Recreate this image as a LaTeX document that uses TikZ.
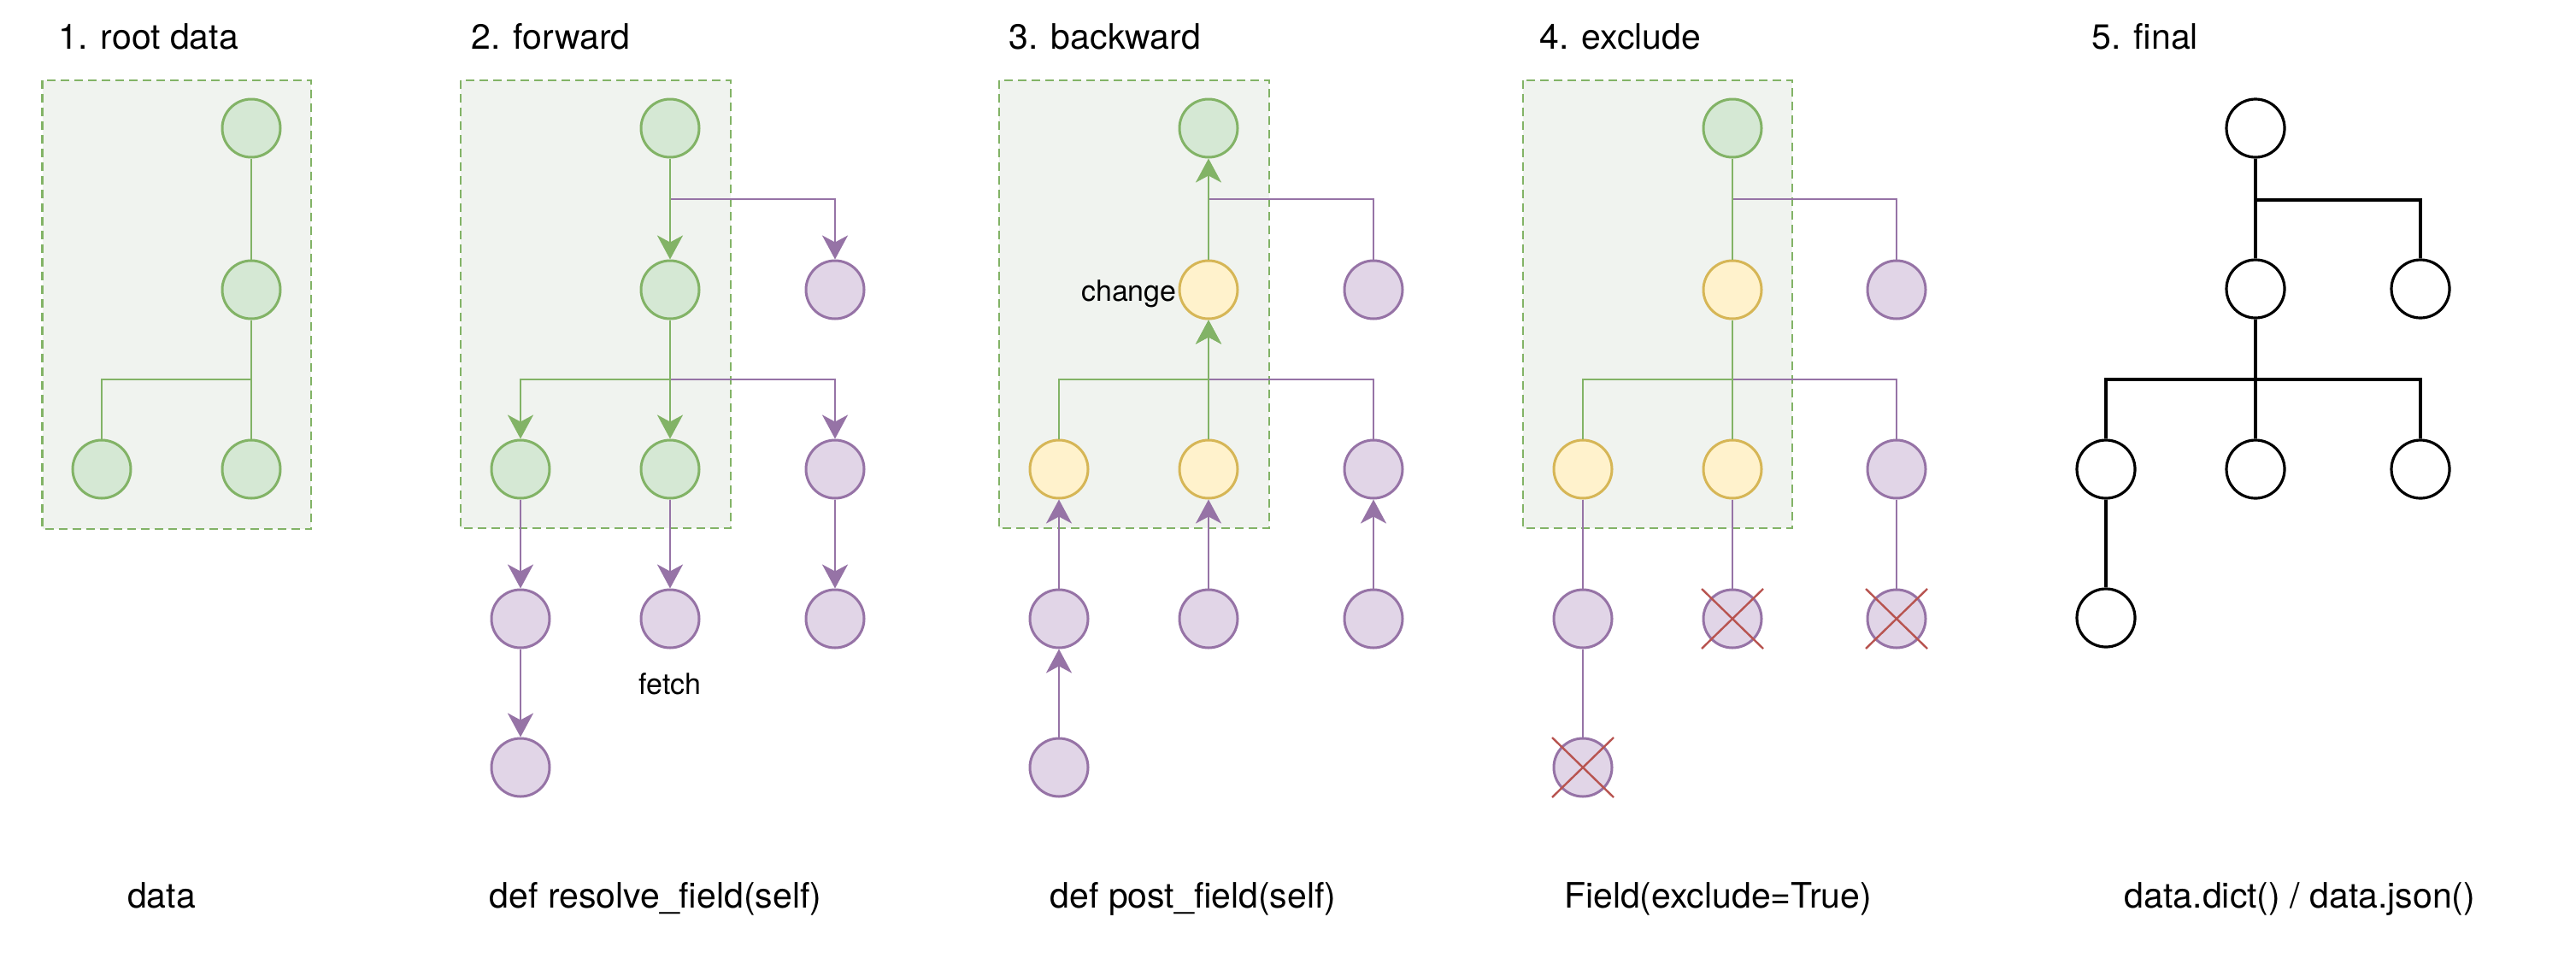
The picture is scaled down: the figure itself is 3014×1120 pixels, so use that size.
\documentclass[tikz,border=0pt]{standalone}
\usepackage{fontspec}
\setmainfont{TeX Gyre Heros}
\usetikzlibrary{arrows.meta}
\definecolor{gfill}{HTML}{D5E8D4}
\definecolor{gdraw}{HTML}{82B366}
\definecolor{pfill}{HTML}{E1D5E7}
\definecolor{pdraw}{HTML}{9673A6}
\definecolor{yfill}{HTML}{FFF2CC}
\definecolor{ydraw}{HTML}{D6B656}
\definecolor{boxfill}{HTML}{F0F3EF}
\definecolor{xred}{HTML}{B85450}
\begin{document}
\begin{tikzpicture}[x=0.5pt,y=-0.5pt,
  nd/.style={circle, minimum size=34pt, inner sep=0pt, line width=1.5pt},
  gn/.style={nd, fill=gfill, draw=gdraw},
  pn/.style={nd, fill=pfill, draw=pdraw},
  yn/.style={nd, fill=yfill, draw=ydraw},
  wn/.style={nd, fill=white, draw=black, line width=1.6pt},
  grp/.style={draw=gdraw, fill=boxfill, line width=1.4pt, dash pattern=on 5pt off 3pt},
  gline/.style={draw=gdraw, line width=1.4pt},
  pline/.style={draw=pdraw, line width=1.4pt},
  kline/.style={draw=black, line width=1.6pt},
  tip/.style={-{Stealth[length=14pt,width=15pt,inset=4pt]}},
  xline/.style={draw=xred, line width=1.2pt},
  title/.style={anchor=base west, inner sep=0pt, font=\fontsize{20.5}{24}\selectfont},
  blabel/.style={anchor=base, inner sep=0pt, font=\fontsize{20.5}{24}\selectfont},
  small/.style={inner sep=0pt, font=\fontsize{17}{20}\selectfont}
]
\useasboundingbox (0,0) rectangle (3014,1120);
\fill[white] (0,0) rectangle (3014,1120);

% titles
\node[title] (t1) at (68,57) {1. root data};
\node[title] (t2) at (551,57) {2. forward};
\node[title] (t3) at (1180,57) {3. backward};
\node[title] (t4) at (1801,57) {4. exclude};
\node[title] (t5) at (2447,57) {5. final};

% bottom labels
\node[blabel] (l1) at (189,1062) {data};
\node[blabel] (l2) at (767,1062) {def resolve\_field(self)};
\node[blabel] (l3) at (1396,1062) {def post\_field(self)};
\node[blabel] (l4) at (2010,1062) {Field(exclude=True)};
\node[blabel] (l5) at (2691,1062) {data.dict() / data.json()};

% group boxes
\path[grp] (49.5,94) rectangle (364,619);
\path[grp] (539,94) rectangle (855,618);
\path[grp] (1169,94) rectangle (1485,618);
\path[grp] (1782,94) rectangle (2097,618);

% ---------- panel 1 ----------
\node[gn] (a1) at (294,150) {};
\node[gn] (b1) at (294,339) {};
\node[gn] (c1) at (119,549) {};
\node[gn] (d1) at (294,549) {};
\coordinate (j1b) at (294,444);
\draw[gline] (a1) -- (b1);
\draw[gline] (b1) -- (d1);
\draw[gline] (b1) -- (j1b) -| (c1);

% ---------- panel 2 ----------
\node[gn] (a2) at (784,150) {};
\node[gn] (b2) at (784,339) {};
\node[pn] (e2) at (977,339) {};
\node[gn] (c2) at (609,549) {};
\node[gn] (d2) at (784,549) {};
\node[pn] (f2) at (977,549) {};
\node[pn] (g2) at (609,724) {};
\node[pn] (h2) at (784,724) {};
\node[pn] (i2) at (977,724) {};
\node[pn] (k2) at (609,898) {};
\coordinate (j2a) at (784,233);
\coordinate (j2b) at (784,444);
\draw[pline,tip] (j2a) -| (e2);
\draw[pline,tip] (j2b) -| (f2);
\draw[pline,tip] (c2) -- (g2);
\draw[pline,tip] (d2) -- (h2);
\draw[pline,tip] (f2) -- (i2);
\draw[pline,tip] (g2) -- (k2);
\draw[gline,tip] (a2) -- (b2);
\draw[gline,tip] (b2) -- (j2b) -| (c2);
\draw[gline,tip] (b2) -- (d2);
\node[small, anchor=base] (fetch) at (784,812) {fetch};

% ---------- panel 3 ----------
\node[gn] (a3) at (1414,150) {};
\node[yn] (b3) at (1414,339) {};
\node[pn] (e3) at (1607,339) {};
\node[yn] (c3) at (1239,549) {};
\node[yn] (d3) at (1414,549) {};
\node[pn] (f3) at (1607,549) {};
\node[pn] (g3) at (1239,724) {};
\node[pn] (h3) at (1414,724) {};
\node[pn] (i3) at (1607,724) {};
\node[pn] (k3) at (1239,898) {};
\coordinate (j3a) at (1414,233);
\coordinate (j3b) at (1414,444);
\draw[pline] (e3) |- (j3a);
\draw[pline] (f3) |- (j3b);
\draw[pline,tip] (g3) -- (c3);
\draw[pline,tip] (h3) -- (d3);
\draw[pline,tip] (i3) -- (f3);
\draw[pline,tip] (k3) -- (g3);
\draw[gline,tip] (b3) -- (a3);
\draw[gline,tip] (c3) |- (j3b) -- (b3);
\draw[gline,tip] (d3) -- (b3);
\node[small, anchor=base east] (change) at (1377,352) {change};

% ---------- panel 4 ----------
\node[gn] (a4) at (2027,150) {};
\node[yn] (b4) at (2027,339) {};
\node[pn] (e4) at (2219,339) {};
\node[yn] (c4) at (1852,549) {};
\node[yn] (d4) at (2027,549) {};
\node[pn] (f4) at (2219,549) {};
\node[pn] (g4) at (1852,724) {};
\node[pn] (h4) at (2027,724) {};
\node[pn] (i4) at (2219,724) {};
\node[pn] (k4) at (1852,898) {};
\coordinate (j4a) at (2027,233);
\coordinate (j4b) at (2027,444);
\draw[pline] (j4a) -| (e4);
\draw[pline] (j4b) -| (f4);
\draw[pline] (c4) -- (g4);
\draw[pline] (d4) -- (h4);
\draw[pline] (f4) -- (i4);
\draw[pline] (g4) -- (k4);
\draw[gline] (a4) -- (b4);
\draw[gline] (b4) -- (j4b) -| (c4);
\draw[gline] (b4) -- (d4);
\foreach \n in {h4,i4,k4}{
  \draw[xline] ([shift={(-36,-35)}]\n.center) -- ([shift={(36,35)}]\n.center);
  \draw[xline] ([shift={(-36,35)}]\n.center) -- ([shift={(36,-35)}]\n.center);
}

% ---------- panel 5 ----------
\node[wn] (a5) at (2639,150) {};
\node[wn] (b5) at (2639,338) {};
\node[wn] (e5) at (2832,338) {};
\node[wn] (c5) at (2464,549) {};
\node[wn] (d5) at (2639,549) {};
\node[wn] (f5) at (2832,549) {};
\node[wn] (g5) at (2464,723) {};
\coordinate (j5a) at (2639,234);
\coordinate (j5b) at (2639,444);
\draw[kline] (a5) -- (b5);
\draw[kline] (j5a) -| (e5);
\draw[kline] (b5) -- (d5);
\draw[kline] (j5b) -| (c5);
\draw[kline] (j5b) -| (f5);
\draw[kline] (c5) -- (g5);
\end{tikzpicture}
\end{document}
